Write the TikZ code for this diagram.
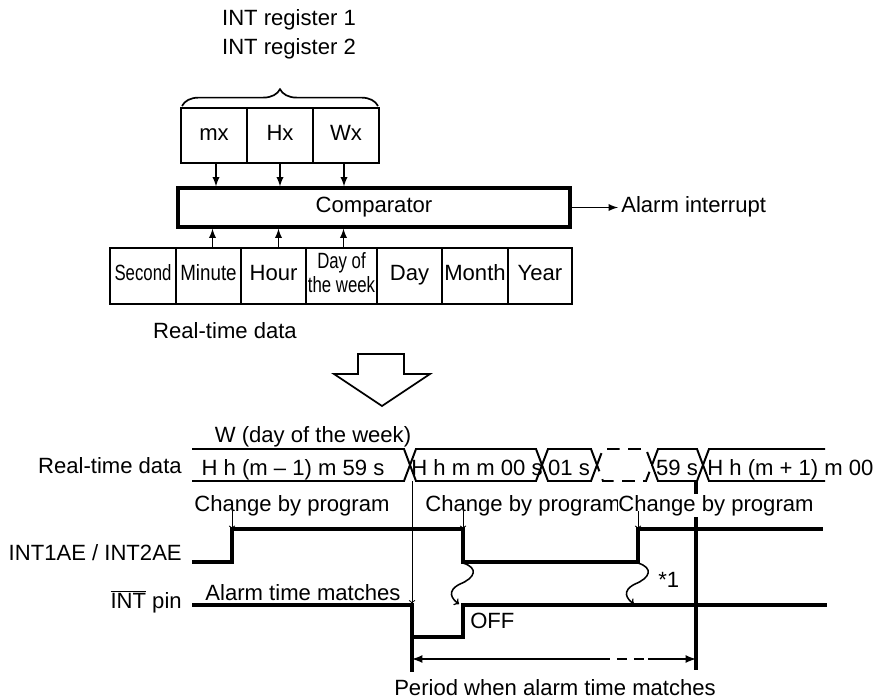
\documentclass[tikz,border=0pt]{standalone}
\usepackage{fontspec}
\setmainfont{Liberation Sans}
\usetikzlibrary{arrows,calc,decorations.pathreplacing}
\newcommand\pxl{0.025cm}
\newcommand\diagfont{\fontsize{15.7pt}{18.5pt}\selectfont}
\newcommand\narrow[2][0.76]{\scalebox{#1}[1]{#2}}

\begin{document}
\begin{tikzpicture}[x=\pxl,y=-\pxl,every node/.style={font=\diagfont},
  even/.style={text height=0.72em,text depth=0.02em},
  regbox/.style={draw,even,line width=1.4pt,minimum width=66*\pxl,minimum height=55*\pxl,inner sep=0pt},
  databox/.style={draw,line width=2pt,minimum height=56*\pxl,inner sep=0pt},
  lbl/.style={inner sep=0pt},
  thinarrow/.style={line width=1.3pt,-latex},
  pointer/.style={line width=0.7pt,->},
  bus/.style={line width=1.4pt},
  sig/.style={line width=2.2pt},
  period/.style={line width=1.5pt}]
\useasboundingbox (0,0) rectangle (873,698);

\node[lbl,anchor=base] (reg1) at (289,25) {INT register 1};
\node[lbl,anchor=base] (reg2) at (289,54) {INT register 2};
\draw[line width=1.2pt,decorate,decoration={brace,amplitude=0.42cm}] (182,106) -- (378,106);
\node[regbox] (mx) at (214,135.5) {mx};
\node[regbox] (hx) at (280,135.5) {Hx};
\node[regbox] (wx) at (346,135.5) {Wx};
\node[draw,even,line width=2.2pt,minimum width=392*\pxl,minimum height=39*\pxl] (cmp) at (374,207.5) {Comparator};
\node[lbl,anchor=base west] (alarm) at (621,212) {Alarm interrupt};
\draw[thinarrow] (cmp.east) -- ([xshift=-3*\pxl]cmp.east -| alarm.west);
\node[databox,even,minimum width=66*\pxl] (sec) at (143,276) {\narrow{Second}};
\node[databox,even,minimum width=65*\pxl] (min) at (208.5,276) {\narrow[0.85]{Minute}};
\node[databox,even,minimum width=65*\pxl] (hour) at (273.5,276) {Hour};
\node[databox,minimum width=71*\pxl] (dow) at (341.5,276) {\narrow{\renewcommand\arraystretch{0.9}\begin{tabular}{@{}c@{}}Day of\\the week\end{tabular}}};
\node[databox,even,minimum width=65*\pxl] (day) at (409.5,276) {Day};
\node[databox,even,minimum width=66*\pxl] (month) at (475,276) {Month};
\node[databox,even,minimum width=64*\pxl] (year) at (540,276) {Year};
\draw[thinarrow] ([xshift=2*\pxl]mx.south) -- ([xshift=2*\pxl]mx.south |- cmp.north);
\draw[thinarrow] (hx.south) -- (hx.south |- cmp.north);
\draw[thinarrow] ([xshift=-2*\pxl]wx.south) -- ([xshift=-2*\pxl]wx.south |- cmp.north);
\draw[thinarrow] ([xshift=4*\pxl]min.north) -- ([xshift=4*\pxl]min.north |- cmp.south);
\draw[thinarrow] ([xshift=5*\pxl]hour.north) -- ([xshift=5*\pxl]hour.north |- cmp.south);
\draw[thinarrow] ([xshift=2*\pxl]dow.north) -- ([xshift=2*\pxl]dow.north |- cmp.south);
\node[lbl,anchor=base] (rtd) at (225,338) {Real-time data};

\draw[line width=1.2pt] (358,354) -- (404,354) -- (404,374) -- (430,374) -- (382,406) -- (334,374) -- (358,374) -- cycle;

\node[lbl,anchor=base] (week) at (313,442) {W (day of the week)};
\node[lbl,anchor=base east] (rtdlbl) at (182,473) {Real-time data};
\node[lbl,anchor=base east] (aelbl) at (182,560) {INT1AE / INT2AE};
\node[lbl,anchor=base east] (pinlbl) at (182,608) {$\overline{\mbox{INT}}$ pin};

\draw[bus] (192,449) -- (404,449) -- (410,465) -- (404,481) -- (192,481);
\foreach \a/\b in {410/542,542/597,652/703}
  \draw[bus] (\a,465) -- (\a+6,449) -- (\b-6,449) -- (\b,465) -- (\b-6,481) -- (\a+6,481) -- cycle;
\draw[bus,dash pattern=on 9pt off 6pt] (597,465) -- (603,449) -- (646,449) -- (652,465) -- (646,481) -- (603,481) -- cycle;
\draw[bus] (825,449) -- (709,449) -- (703,465) -- (709,481) -- (825,481);
\node[lbl,anchor=base] (seg1) at (293,475) {H h (m – 1) m 59 s};
\node[lbl,anchor=base] (seg2) at (477,475) {H h m m 00 s};
\node[lbl,anchor=base] (seg3) at (569,475) {01 s};
\node[lbl,anchor=base] (seg5) at (677,475) {59 s};
\node[lbl,anchor=base west] (seg6) at (707,475) {H h (m + 1) m 00};

\coordinate (rise1) at (232,529);
\coordinate (fall1) at (463,529);
\coordinate (rise2) at (638,529);
\coordinate (busdown) at (412,481);
\coordinate (match) at (412,605);
\draw[sig] (192,562) -- (232,562) -- (rise1) -- (fall1) -- (463,562) -- (638,562) -- (rise2) -- (823,529);
\draw[sig] (192,605) -- (match) -- (412,637) -- (463,637) -- (463,605) -- (827,605);
\draw[sig] (match) -- (412,672);
\draw[sig] (696,482) -- (696,670);
\draw[pointer] (busdown) -- ([yshift=1.5*\pxl]match);

\node[lbl,anchor=base] (cbp1) at (292,511) {Change by program};
\node[lbl,anchor=base] (cbp2) at (523,511) {Change by program};
\node[lbl,anchor=base,fill=white,inner ysep=1pt] (cbp3) at (716,511) {Change by program};
\draw[pointer] (cbp1.base -| rise1) -- (rise1);
\draw[pointer] (cbp2.base -| fall1) -- (fall1);
\draw[pointer] (cbp3.base -| rise2) -- (rise2);

\node[lbl,anchor=base] (atm) at (303,600) {Alarm time matches};
\node[lbl,anchor=base west] (off) at (470,628) {OFF};
\node[lbl,anchor=base west] (note) at (658,587) {*1};
\draw[line width=1.1pt,->] (463,563) .. controls (479,568) and (475,578) .. (460,584) .. controls (446,591) and (452,599) .. (459,604);
\draw[line width=1.1pt,->] (638,563) .. controls (654,568) and (650,578) .. (635,584) .. controls (621,591) and (627,599) .. (634,604);

\coordinate (pl) at (412,659);
\coordinate (pd1) at (600,659);
\coordinate (pd2) at (648,659);
\coordinate (pr) at (696,659);
\draw[period,latex-] (pl) -- (pd1);
\draw[period,dash pattern=on 7pt off 5pt] (pd1) -- (pd2);
\draw[period,-latex] (pd2) -- (pr);
\node[lbl,anchor=base] (plbl) at (555,695) {Period when alarm time matches};
\end{tikzpicture}
\end{document}
